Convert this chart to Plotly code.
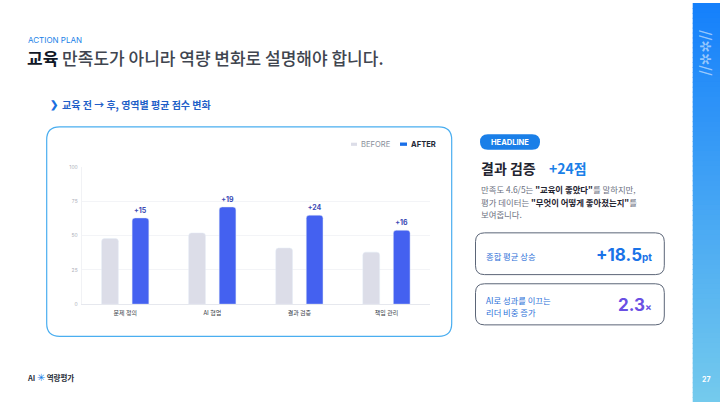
import plotly.graph_objects as go

# ---------------- data ----------------
categories = ["문제 정의", "AI 협업", "결과 검증", "책임 관리"]
before = [48, 52, 41, 38]
after = [63, 71, 65, 54]
y_ticks = [0, 25, 50, 75, 100]
gain_labels = [f"+{a - b}" for a, b in zip(after, before)]

title_kicker = "ACTION PLAN"
subtitle = "교육 전 → 후, 영역별 평균 점수 변화"
headline_title = "결과 검증"
headline_value = "+24점"
body_lines = [
    "만족도 4.6/5는 <b style='color:#1f2430'>\"교육이 좋았다\"</b>를 말하지만,",
    "평가 데이터는 <b style='color:#1f2430'>\"무엇이 어떻게 좋아졌는지\"</b>를",
    "보여줍니다.",
]
kpi1_label = "종합 평균 상승"
kpi1_value = "+18.5"
kpi2_label = ["AI로 성과를 이끄는", "리더 비중 증가"]
kpi2_value = "2.3"

# ---------------- helpers ----------------
W, H = 720, 405
FONT = "Inter, 'Noto Sans CJK KR', sans-serif"
KFONT = "'Noto Sans CJK KR', Inter, sans-serif"


def X(x):
    return x / W


def Y(y):
    return 1 - y / H


def rrect(x0, y0, x1, y1, r, line_color=None, width=1, fill=None):
    p = lambda x, y: f"{X(x):.5f},{Y(y):.5f}"
    path = (f"M{p(x0 + r, y0)} L{p(x1 - r, y0)} Q{p(x1, y0)} {p(x1, y0 + r)} "
            f"L{p(x1, y1 - r)} Q{p(x1, y1)} {p(x1 - r, y1)} L{p(x0 + r, y1)} "
            f"Q{p(x0, y1)} {p(x0, y1 - r)} L{p(x0, y0 + r)} Q{p(x0, y0)} {p(x0 + r, y0)} Z")
    return dict(type="path", xref="paper", yref="paper", path=path,
                line=dict(color=line_color or "rgba(0,0,0,0)", width=width if line_color else 0),
                fillcolor=fill or "rgba(0,0,0,0)", layer="below")


def ann(x, y, text, size, color, xanchor="left", bold=False, family=KFONT, weight=None, angle=0):
    f = dict(size=size, color=color, family=family)
    if weight:
        f["weight"] = weight
    return dict(x=X(x), y=Y(y), xref="paper", yref="paper", text=f"<b>{text}</b>" if bold else text,
                showarrow=False, xanchor=xanchor, yanchor="middle", font=f, borderpad=0, textangle=angle)


# ---------------- figure ----------------
fig = go.Figure()
fig.add_bar(x=categories, y=before, name="BEFORE",
            marker=dict(color="#dcdde8", cornerradius=3), hoverinfo="skip")
fig.add_bar(x=categories, y=after, name="AFTER",
            marker=dict(color="#4461f0", cornerradius=3), hoverinfo="skip",
            text=gain_labels, textposition="outside", constraintext="none", cliponaxis=False,
            textfont=dict(size=7, color="#3c4bb5", family=FONT, weight=700))

plot_l, plot_r, plot_t, plot_b = 81.7, 430, 166.7, 305.7

fig.update_layout(
    width=W, height=H, margin=dict(l=0, r=0, t=0, b=0),
    paper_bgcolor="white", plot_bgcolor="white",
    barmode="group", bargap=0.30, bargroupgap=0.45,
    showlegend=False, font=dict(family=FONT),
    xaxis=dict(domain=[X(plot_l), X(plot_r)], showline=True, linecolor="#e6e8ee", linewidth=1,
               ticks="", tickfont=dict(size=6, color="#3a3f4a", family=KFONT), showgrid=False,
               ticklabelstandoff=3, fixedrange=True),
    yaxis=dict(domain=[Y(plot_b), Y(plot_t)], range=[0, 100], tickvals=y_ticks,
               ticktext=[str(v) for v in y_ticks], tickfont=dict(size=5, color="#aeb1ba"),
               showgrid=True, gridcolor="#f3f4f7", gridwidth=1, zeroline=False,
               showline=True, linecolor="#f1f2f5", ticks="", ticklabelstandoff=2, fixedrange=True),
)

shapes = []
# sidebar gradient (stripes)
top = (0x15, 0x80, 0xfb)
bot = (0x74, 0xca, 0xed)
n = 81
for i in range(n):
    t = i / (n - 1)
    c = tuple(round(top[k] + (bot[k] - top[k]) * t) for k in range(3))
    y0 = i * H / n
    y1 = min(H, y0 + H / n + 1)
    shapes.append(dict(type="rect", xref="paper", yref="paper", x0=X(692.7), x1=1,
                       y0=Y(y1), y1=Y(y0), line=dict(width=0),
                       fillcolor=f"rgb{c}", layer="below"))
# chart card
shapes.append(rrect(46.7, 125.7, 451.7, 338.3, 13, line_color="#4aaef0", width=1.2))
# headline pill
shapes.append(rrect(480, 133.3, 540, 149, 7.8, fill="#1a7fe8"))
# KPI boxes
shapes.append(rrect(475.5, 233.3, 664.3, 275.7, 9, line_color="#5b6577", width=1))
shapes.append(rrect(475.5, 285, 664.3, 326.7, 9, line_color="#5b6577", width=1))
# legend swatches
shapes.append(dict(type="rect", xref="paper", yref="paper", x0=X(351), x1=X(357), y0=Y(145),
                   y1=Y(141.8), fillcolor="#dcdde8", line=dict(width=0)))
shapes.append(dict(type="rect", xref="paper", yref="paper", x0=X(400), x1=X(407), y0=Y(145),
                   y1=Y(141.6), fillcolor="#1a6fe8", line=dict(width=0)))

annotations = [
    ann(26.5, 38, title_kicker, 8, "#1a7fe8", family=FONT),
    ann(26, 55, "<b style='color:#111827'>교육</b> 만족도가 아니라 역량 변화로 설명해야 합니다.", 17,
        "#40454f", weight=500),
    ann(48.5, 103, "❯", 10, "#1a6fe0", bold=True, family=FONT),
    ann(61, 103, subtitle, 10, "#1f5fc8", bold=True),
    ann(360, 143.3, "BEFORE", 7.6, "#8a8f9c", family=FONT),
    ann(409.5, 143.3, "AFTER", 7.6, "#1f2937", bold=True, family=FONT),
    ann(510, 141.2, "HEADLINE", 7.5, "white", xanchor="center", bold=True, family=FONT),
    ann(480, 167.7, headline_title, 14, "#1f2430", bold=True),
    ann(548, 167.7, headline_value, 14, "#1a7fe8", bold=True),
    ann(480, 189, body_lines[0], 8.4, "#6b7080"),
    ann(480, 201.5, body_lines[1], 8.4, "#6b7080"),
    ann(480, 214, body_lines[2], 8.4, "#6b7080"),
    ann(485, 256.7, kpi1_label, 8.3, "#2b6fd8"),
    ann(653, 256, f"{kpi1_value}<span style='font-size:10px'>pt</span>", 17, "#1a73e8",
        xanchor="right", bold=True, family=FONT),
    ann(485, 301, kpi2_label[0], 8.3, "#2b6fd8"),
    ann(485, 313.3, kpi2_label[1], 8.3, "#2b6fd8"),
    ann(653, 306.5, f"{kpi2_value}<span style='font-size:10px'>×</span>", 17, "#6a4fe3",
        xanchor="right", bold=True, family=FONT),
    ann(705, 51, "//✲✲//", 15, "rgba(255,255,255,0.55)", xanchor="center", family="DejaVu Sans",
        angle=90),
    ann(706, 382, "27", 7, "white", xanchor="center", bold=True, family=FONT),
    ann(26, 379.5, "<b style='color:#2a2f3a'>AI</b> <span style='color:#1a7fe8;font-size:10px'>✳</span> "
                   "<b style='color:#2a2f3a'>역량평가</b>", 7.5, "#2a2f3a"),
]

fig.update_layout(shapes=shapes, annotations=annotations)
fig.write_html("out.html")
